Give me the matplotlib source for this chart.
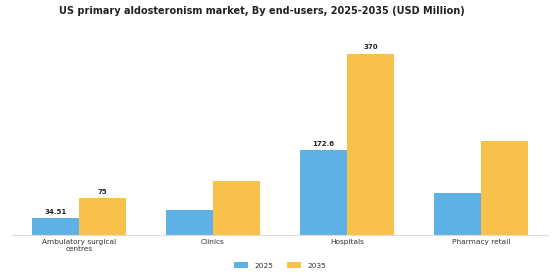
import matplotlib
matplotlib.use("Agg")
import matplotlib.pyplot as plt
import numpy as np

categories = ["Ambulatory surgical\ncentres", "Clinics", "Hospitals", "Pharmacy retail"]
values_2025 = [34.51, 51, 172.6, 86]
values_2035 = [75, 110, 370, 192]
labels_2025 = ["34.51", "", "172.6", ""]
labels_2035 = ["75", "", "370", ""]
series = ["2025", "2035"]

c25 = "#5DB1E4"
c35 = "#F7C14B"

fig = plt.figure(figsize=(5.6, 2.8), dpi=100)
ax = fig.add_axes([0.021, 0.161, 0.958, 0.699])
x = np.arange(len(categories))
w = 0.35
b1 = ax.bar(x - w/2, values_2025, w, color=c25, label=series[0])
b2 = ax.bar(x + w/2, values_2035, w, color=c35, label=series[1])
for bars, labs in ((b1, labels_2025), (b2, labels_2035)):
    for r, l in zip(bars, labs):
        if l:
            ax.text(r.get_x() + r.get_width()/2, r.get_height() + 7, l,
                    ha="center", va="bottom", fontsize=5, fontweight="bold", color="#222222")
ax.set_xlim(-0.5, 3.5)
ax.set_ylim(0, 400)
ax.set_xticks(x)
ax.set_xticklabels(categories, fontsize=5.3, color="#333333", linespacing=1.1,
                   multialignment="center")
ax.tick_params(axis="x", length=0, pad=3)
ax.set_yticks([])
for s in ["top", "right", "left"]:
    ax.spines[s].set_visible(False)
ax.spines["bottom"].set_color("#dddddd")
ax.spines["bottom"].set_linewidth(0.8)
fig.suptitle("US primary aldosteronism market, By end-users, 2025-2035 (USD Million)",
             fontsize=7, fontweight="bold", color="#222222", x=0.467, y=0.98)
fig.legend(handles=[b1, b2], labels=series, loc="center", bbox_to_anchor=(0.5, 0.052),
           ncol=2, frameon=False, fontsize=5.3, handlelength=1.9, handleheight=0.7,
           columnspacing=1.9, handletextpad=0.8, labelcolor="#333333")
fig.savefig("out.png", dpi=100)
